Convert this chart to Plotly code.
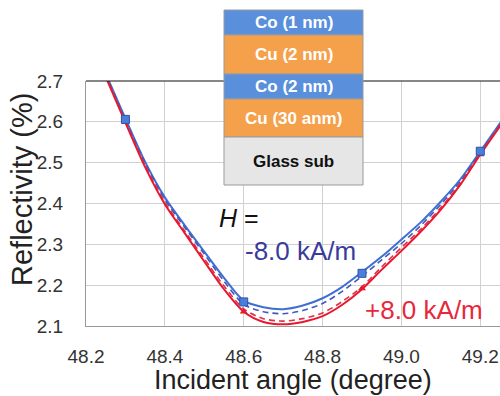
import plotly.graph_objects as go

# ---- data ----
angle = [48.25, 48.30, 48.35, 48.40, 48.45, 48.50, 48.55, 48.60, 48.65, 48.70,
         48.75, 48.80, 48.85, 48.90, 48.95, 49.00, 49.05, 49.10, 49.15, 49.20, 49.26]
neg_fit = [2.718, 2.608, 2.502, 2.415, 2.347, 2.282, 2.218, 2.162, 2.146, 2.141,
           2.150, 2.168, 2.196, 2.232, 2.270, 2.312, 2.355, 2.405, 2.460, 2.528, 2.610]
neg_fit2 = [2.716, 2.605, 2.499, 2.410, 2.342, 2.276, 2.210, 2.153, 2.135, 2.130,
            2.138, 2.155, 2.185, 2.222, 2.262, 2.302, 2.347, 2.398, 2.455, 2.525, 2.607]
pos_fit2 = [2.712, 2.600, 2.492, 2.403, 2.333, 2.265, 2.198, 2.142, 2.118, 2.112,
            2.118, 2.132, 2.160, 2.196, 2.245, 2.292, 2.338, 2.390, 2.450, 2.522, 2.605]
pos_fit = [2.710, 2.598, 2.489, 2.398, 2.328, 2.258, 2.190, 2.135, 2.110, 2.104,
           2.110, 2.124, 2.152, 2.190, 2.238, 2.284, 2.332, 2.385, 2.447, 2.520, 2.603]

meas_angle = [48.3, 48.6, 48.9, 49.2]
neg_meas = [2.606, 2.159, 2.229, 2.528]
pos_meas = [2.600, 2.135, 2.192, 2.520]

x_ticks = [48.2, 48.4, 48.6, 48.8, 49.0, 49.2]
y_ticks = [2.1, 2.2, 2.3, 2.4, 2.5, 2.6, 2.7]

layers = ["Co (1 nm)", "Cu (2 nm)", "Co (2 nm)", "Cu (30 anm)", "Glass sub"]

# ---- figure ----
W, H = 500, 396
L, R, T, B = 86, 0, 81, 70
pw, ph = W - L - R, H - T - B

def px(x):
    return (x - L) / pw

def py(y):
    return (H - B - y) / ph

FONT = "Arial, Liberation Sans, sans-serif"
BLUE = "#3f6fd1"
BLUE2 = "#4058c0"
RED = "#e8192c"
RED2 = "#e0304a"

fig = go.Figure()
fig.add_trace(go.Scatter(x=angle, y=neg_fit, mode="lines",
                         line=dict(color=BLUE, width=2, shape="spline", smoothing=0.8)))
fig.add_trace(go.Scatter(x=angle, y=neg_fit2, mode="lines",
                         line=dict(color=BLUE2, width=1.6, dash="6px,4px", shape="spline", smoothing=0.8)))
fig.add_trace(go.Scatter(x=angle, y=pos_fit2, mode="lines",
                         line=dict(color=RED2, width=1.6, dash="6px,4px", shape="spline", smoothing=0.8)))
fig.add_trace(go.Scatter(x=angle, y=pos_fit, mode="lines",
                         line=dict(color=RED, width=2, shape="spline", smoothing=0.8)))
fig.add_trace(go.Scatter(x=meas_angle, y=pos_meas, mode="markers",
                         marker=dict(symbol="triangle-up", size=7, color=RED)))
fig.add_trace(go.Scatter(x=meas_angle, y=neg_meas, mode="markers",
                         marker=dict(symbol="square", size=8, color="#4a7fd8",
                                     line=dict(color="#3050b0", width=1))))

# frame top line
shapes = [dict(type="line", xref="paper", yref="paper", x0=0, x1=1, y0=1, y1=1,
               line=dict(color="#111111", width=1.2), layer="above")]

# inset layer stack
bounds = [10, 35, 74, 99, 137, 185]
fills = ["#5a8fdc", "#f5a04a", "#5a8fdc", "#f5a04a", "#e6e6e6"]
tcols = ["white", "white", "white", "white", "#111111"]
x0, x1 = 224, 363
annotations = []
for i, name in enumerate(layers):
    shapes.append(dict(type="rect", xref="paper", yref="paper",
                       x0=px(x0), x1=px(x1), y0=py(bounds[i + 1]), y1=py(bounds[i]),
                       fillcolor=fills[i], line=dict(color="#9a9a9a", width=1), layer="above"))
    annotations.append(dict(xref="paper", yref="paper", x=px((x0 + x1) / 2),
                            y=py((bounds[i] + bounds[i + 1]) / 2), text="<b>%s</b>" % name,
                            showarrow=False, xanchor="center", yanchor="middle",
                            font=dict(family=FONT, size=17, color=tcols[i])))

annotations += [
    dict(xref="paper", yref="paper", x=px(217), y=py(218), text="<i>H</i> =",
         showarrow=False, xanchor="left", yanchor="middle",
         font=dict(family=FONT, size=25, color="#111111")),
    dict(xref="paper", yref="paper", x=px(243), y=py(251), text="-8.0 kA/m",
         showarrow=False, xanchor="left", yanchor="middle",
         font=dict(family=FONT, size=26, color="#3a3a9c")),
    dict(xref="paper", yref="paper", x=px(363), y=py(310), text="+8.0 kA/m",
         showarrow=False, xanchor="left", yanchor="middle",
         font=dict(family=FONT, size=26, color="#e8283c")),
    dict(xref="paper", yref="paper", x=px(293), y=py(380), text="Incident angle (degree)",
         showarrow=False, xanchor="center", yanchor="middle",
         font=dict(family=FONT, size=27, color="#222222")),
    dict(xref="paper", yref="paper", x=px(22), y=py(190), text="Reflectivity (%)",
         showarrow=False, xanchor="center", yanchor="middle", textangle=-90,
         font=dict(family=FONT, size=29, color="#222222")),
]

fig.update_layout(
    width=W, height=H,
    margin=dict(l=L, r=R, t=T, b=B, autoexpand=False),
    paper_bgcolor="white", plot_bgcolor="white",
    showlegend=False,
    shapes=shapes, annotations=annotations,
    font=dict(family=FONT, color="#333333"),
)
fig.update_xaxes(range=[48.2, 49.25], tickvals=x_ticks, tickformat=".1f",
                 showgrid=True, gridcolor="#d0d0d0", gridwidth=1,
                 showline=True, linecolor="#999999", linewidth=1,
                 ticks="", ticklabelstandoff=13, automargin=False,
                 tickfont=dict(family=FONT, size=19, color="#333333"), zeroline=False)
fig.update_yaxes(range=[2.1, 2.7], tickvals=y_ticks, tickformat=".1f",
                 showgrid=True, gridcolor="#d0d0d0", gridwidth=1,
                 showline=True, linecolor="#999999", linewidth=1,
                 ticks="", ticklabelstandoff=18, automargin=False,
                 tickfont=dict(family=FONT, size=19, color="#333333"), zeroline=False)

fig.write_html("out.html", config={"displayModeBar": False},
               post_script="document.body.style.margin='0';document.body.style.overflow='hidden';")
